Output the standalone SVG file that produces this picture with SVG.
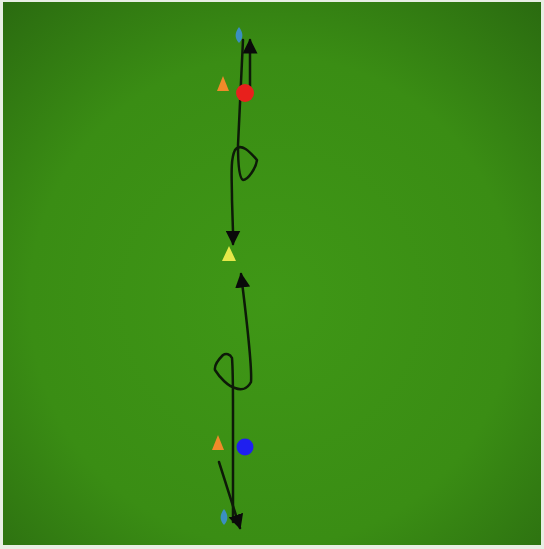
<svg xmlns="http://www.w3.org/2000/svg" width="544" height="549" viewBox="0 0 544 549">
<defs>
<radialGradient id="field" cx="0.5" cy="0.55" r="0.75">
<stop offset="0" stop-color="#3f9716"/>
<stop offset="0.6" stop-color="#3a8d14"/>
<stop offset="1" stop-color="#2a6a10"/>
</radialGradient>
<marker id="arr" viewBox="0 0 10 10" refX="9" refY="5" markerWidth="15" markerHeight="15" markerUnits="userSpaceOnUse" orient="auto">
<path d="M0,0 L10,5 L0,10 Z" fill="#0a0a0a"/>
</marker>
<style>
.run{fill:none;stroke:#0d1a08;stroke-width:2.5;stroke-linecap:round;stroke-linejoin:round}
.cone-o{fill:#f08a2a}
.cone-y{fill:#e6e84a}
.mark{fill:#3b8fc0}
</style>
</defs>
<rect x="0" y="0" width="544" height="549" fill="#e8eee4"/>
<rect x="3" y="2" width="538" height="543" fill="url(#field)"/>
<g id="connectors">
<path class="run" d="M250,88 L250,40" marker-end="url(#arr)"/>
<path class="run" d="M233,232 L232,200 C232,180 230,160 235,150 C241,142 250,152 257,160 C256,168 248,180 243,180 C239,178 238,165 238,145 L243,40"/>
<path class="run" d="M233,232 L233,244" marker-end="url(#arr)"/>
<path class="run" d="M233,522 L233,410 C233,390 233,370 232,358 C230,354 226,353 223,355 C218,360 214,365 215,370 C220,378 228,386 235,388 C240,390 247,390 251,382 C252,370 248,330 241,274" marker-end="url(#arr)"/>
<path class="run" d="M219,462 L240,528" marker-end="url(#arr)"/>
</g>
<g id="top-marker"><path class="mark" d="M239,27 C243,32 244,38 239,43 C234,38 235,32 239,27 Z"/></g>
<g id="top-cone"><path class="cone-o" d="M223,76 L229,91 L217,91 Z"/></g>
<g id="red-player"><circle cx="245" cy="93" r="9" fill="#e8201c"/></g>
<g id="yellow-cone"><path class="cone-y" d="M229,246 L236,261 L222,261 Z"/></g>
<g id="bottom-cone"><path class="cone-o" d="M218,435 L224,450 L212,450 Z"/></g>
<g id="blue-player"><circle cx="245" cy="447" r="8.5" fill="#1f1ff0"/></g>
<g id="bottom-marker"><path class="mark" d="M224,509 C228,514 229,520 224,525 C219,520 220,514 224,509 Z"/></g>
</svg>
